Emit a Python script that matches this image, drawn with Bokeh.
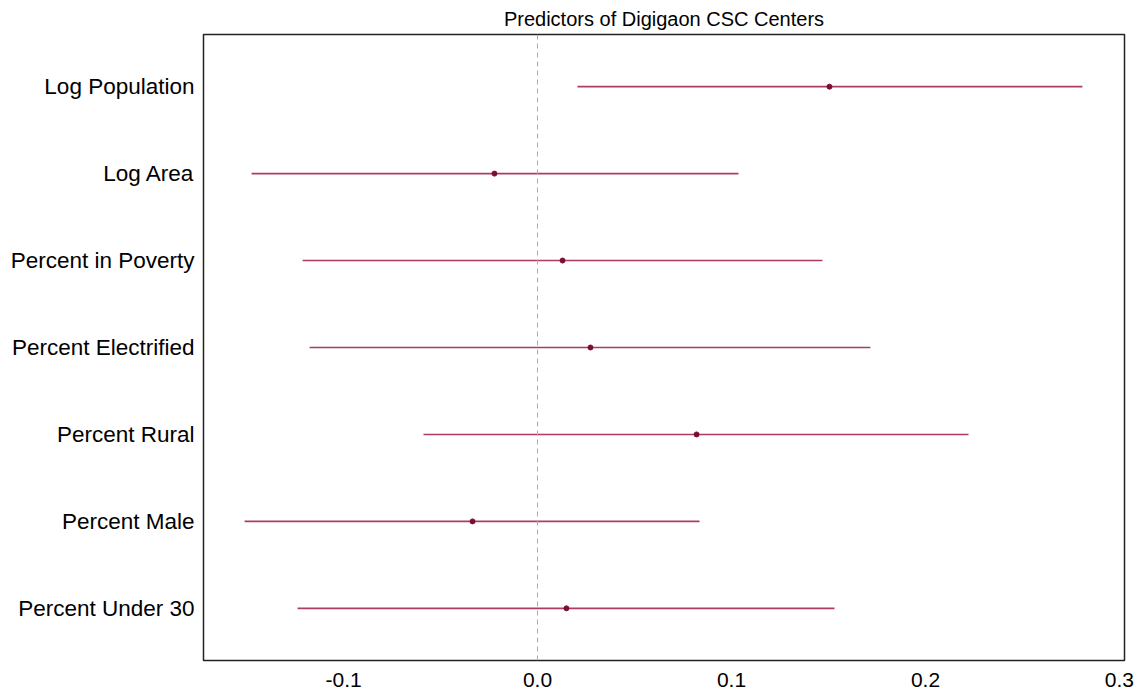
from bokeh.plotting import figure
from bokeh.models import FixedTicker, Span, Range1d
from bokeh.embed import file_html
from bokeh.resources import INLINE

# Coefficient estimates with interval bounds, listed top to bottom
predictors = ["Log Population", "Log Area", "Percent in Poverty", "Percent Electrified",
              "Percent Rural", "Percent Male", "Percent Under 30"]
estimate = [0.1505, -0.0222, 0.0129, 0.0273, 0.0820, -0.0335, 0.0149]
lower = [0.0206, -0.1474, -0.1211, -0.1175, -0.0588, -0.1510, -0.1237]
upper = [0.2809, 0.1036, 0.1469, 0.1716, 0.2222, 0.0835, 0.1531]
x_ticks = [-0.1, 0.0, 0.1, 0.2, 0.3]

n = len(predictors)
ypos = [n - i for i in range(n)]  # first predictor at the top

FONT = "Liberation Sans"
LINE_COLOR = "#a3284f"
POINT_COLOR = "#7a0f35"

p = figure(width=1140, height=694, output_backend="svg", toolbar_location=None,
           x_range=Range1d(-0.1722, 0.3026), y_range=Range1d(0.4, 7.6),
           min_border_left=203, min_border_right=16, min_border_top=34,
           min_border_bottom=34)

p.title.text = "Predictors of Digigaon CSC Centers"
p.title.align = "center"
p.title.text_font = FONT
p.title.text_font_size = "20px"
p.title.text_font_style = "normal"
p.title.text_color = "#000000"
p.title.standoff = 9

p.grid.visible = False
p.outline_line_color = "#222222"
p.outline_line_width = 1.5
p.background_fill_color = "white"
p.border_fill_color = "white"

# zero reference line
p.add_layout(Span(location=0, dimension="height", line_color="#aaaaaa",
                  line_width=1, line_dash="5 4"))

p.segment(x0=lower, y0=ypos, x1=upper, y1=ypos, line_color=LINE_COLOR,
          line_width=1.6, line_alpha=0.9)
p.scatter(x=estimate, y=ypos, size=5, color=POINT_COLOR)

for ax in (p.xaxis[0], p.yaxis[0]):
    ax.axis_line_color = None
    ax.major_tick_line_color = None
    ax.minor_tick_line_color = None
    ax.major_label_text_font = FONT
    ax.major_label_text_color = "#000000"

p.xaxis[0].ticker = FixedTicker(ticks=x_ticks)
p.xaxis[0].major_label_overrides = {t: f"{t:.1f}" for t in x_ticks}
p.xaxis[0].major_label_text_font_size = "21px"
p.xaxis[0].major_label_standoff = 6

p.yaxis[0].ticker = FixedTicker(ticks=ypos)
p.yaxis[0].major_label_overrides = {y: name for y, name in zip(ypos, predictors)}
p.yaxis[0].major_label_text_font_size = "22.5px"
p.yaxis[0].major_label_standoff = 3

open("out.html", "w").write(file_html(p, INLINE))
